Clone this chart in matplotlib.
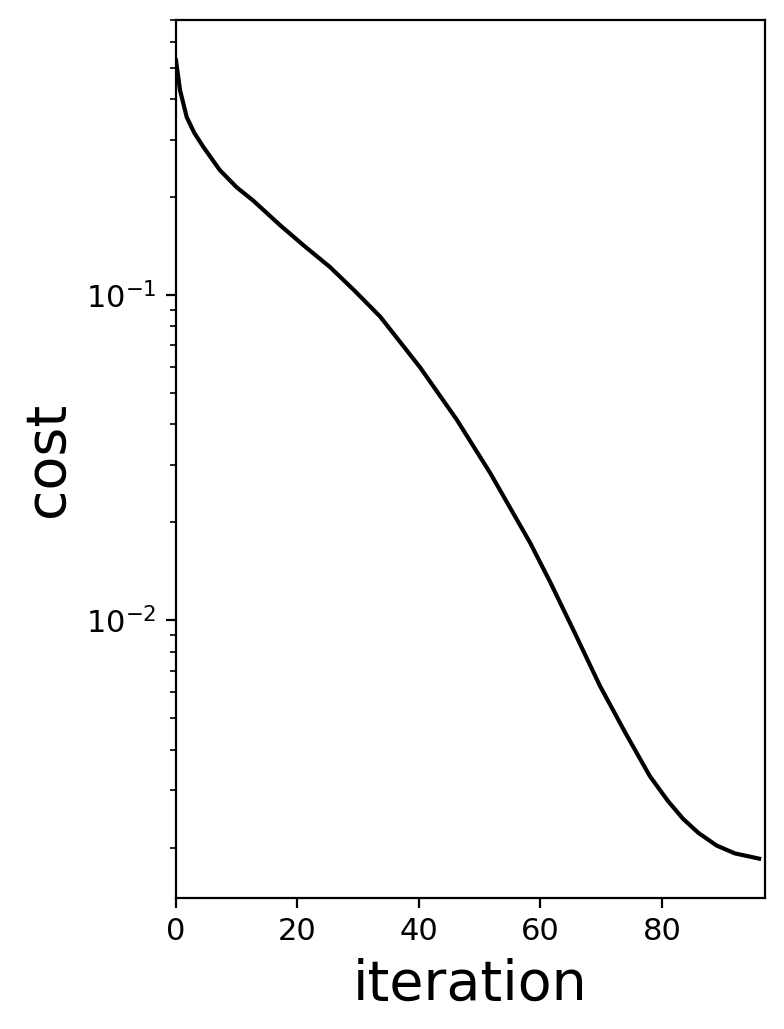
import numpy as np
import matplotlib.pyplot as plt

# values
iteration = [0, 0.66, 1.76, 3, 4.5, 7.2, 10, 12.7, 17.1, 21, 25.3, 29.4, 33.6, 40.2, 46.2,
             51.7, 58.3, 61.6, 65.7, 69.8, 74, 78, 81, 83.5, 86, 89, 92, 96]
cost = [0.526, 0.426, 0.352, 0.315, 0.285, 0.242, 0.214, 0.195, 0.164, 0.142, 0.122, 0.103,
        0.0858, 0.0598, 0.0414, 0.0284, 0.0173, 0.0131, 0.0091, 0.00628,
        0.0045, 0.00332, 0.00278, 0.00245, 0.00222, 0.00203, 0.00192, 0.00185]

fig = plt.figure(figsize=(3.92, 5.145), dpi=200)
ax = fig.add_axes([0.2245, 0.1273, 0.7515, 0.8533])
ax.plot(iteration, cost, color='black')
ax.set_yscale('log')
ax.set_xlim(0, 97)
ax.set_ylim(0.0014, 0.70)
ax.tick_params(labelsize=11)
ax.set_xlabel('iteration', fontsize=20)
ax.set_ylabel('cost', fontsize=20)
fig.savefig('out.png', dpi=200)
